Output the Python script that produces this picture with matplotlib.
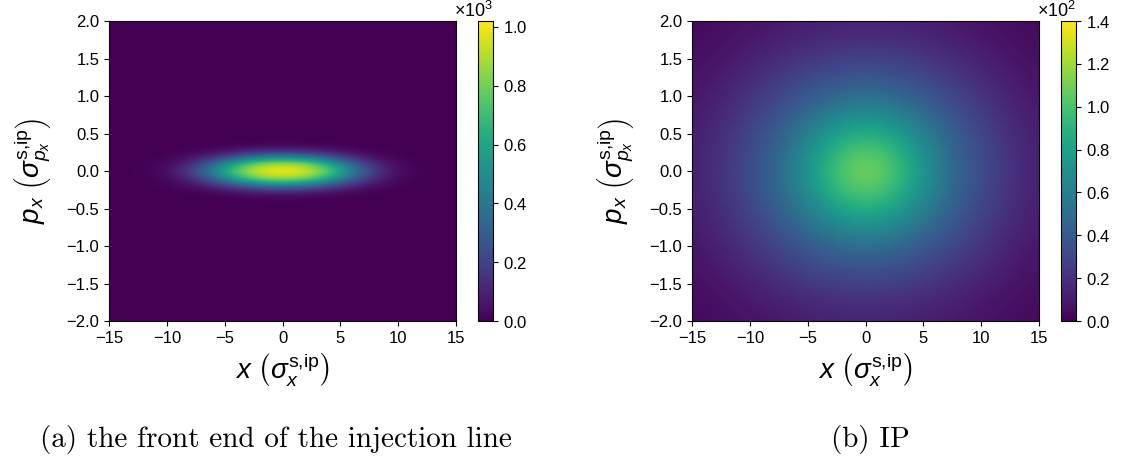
import numpy as np
import matplotlib.pyplot as plt
from matplotlib.ticker import ScalarFormatter

plt.rcParams['font.family'] = 'Liberation Sans'
plt.rcParams['mathtext.fontset'] = 'custom'
plt.rcParams['mathtext.rm'] = 'Liberation Sans'
plt.rcParams['mathtext.it'] = 'Liberation Sans:italic'
plt.rcParams['mathtext.bf'] = 'Liberation Sans:bold'
plt.rcParams['xtick.labelsize'] = 12
plt.rcParams['ytick.labelsize'] = 12

# (a) front end of the injection line: counts
front_x = [-12, -10, -8, -6, -4, -2, 0, 2, 4, 6, 8, 10, 12]
front_px = [-0.4, -0.32, -0.24, -0.16, -0.08, 0.0, 0.08, 0.16, 0.24, 0.32, 0.4]
front_counts = [
    [0, 0, 0, 0, 1, 2, 3, 2, 1, 0, 0, 0, 0],
    [0, 0, 2, 7, 18, 29, 37, 29, 18, 7, 2, 0, 0],
    [0, 3, 15, 52, 117, 188, 213, 188, 117, 52, 15, 3, 0],
    [1, 12, 58, 181, 380, 550, 615, 550, 380, 181, 58, 12, 1],
    [3, 22, 125, 360, 665, 880, 935, 880, 665, 360, 125, 22, 3],
    [4, 35, 160, 440, 770, 960, 1010, 960, 770, 440, 160, 35, 4],
    [3, 22, 125, 360, 665, 880, 935, 880, 665, 360, 125, 22, 3],
    [1, 12, 58, 181, 380, 550, 615, 550, 380, 181, 58, 12, 1],
    [0, 3, 15, 52, 117, 188, 213, 188, 117, 52, 15, 3, 0],
    [0, 0, 2, 7, 18, 29, 37, 29, 18, 7, 2, 0, 0],
    [0, 0, 0, 0, 1, 2, 3, 2, 1, 0, 0, 0, 0],
]

# (b) IP
ip_x = [-15, -12.5, -10, -7.5, -5, -2.5, 0, 2.5, 5, 7.5, 10, 12.5, 15]
ip_px = [-2.0, -1.5, -1.0, -0.5, 0.0, 0.5, 1.0, 1.5, 2.0]
ip_counts = [
    [3, 4.7, 6.5, 8, 10, 11.5, 12, 11.5, 10, 8, 6.5, 4.7, 3],
    [5.5, 8, 12, 17, 21.5, 25, 26, 25, 21.5, 17, 12, 8, 5.5],
    [8, 13, 21, 29, 38, 46, 50, 46, 38, 29, 21, 13, 8],
    [11, 18, 29, 43, 62, 82, 90, 82, 62, 43, 29, 18, 11],
    [12, 21, 33, 49, 76, 106, 122, 106, 76, 49, 33, 21, 12],
    [11, 18, 29, 43, 62, 82, 90, 82, 62, 43, 29, 18, 11],
    [8, 13, 21, 29, 38, 46, 50, 46, 38, 29, 21, 13, 8],
    [5.5, 8, 12, 17, 21.5, 25, 26, 25, 21.5, 17, 12, 8, 5.5],
    [3, 4.7, 6.5, 8, 10, 11.5, 12, 11.5, 10, 8, 6.5, 4.7, 3],
]

captions = ['(a) the front end of the injection line', '(b) IP']


def draw_panel(fig, ax, cax, xs, ys, counts, vmax, cticks):
    dx = xs[1] - xs[0]
    dy = ys[1] - ys[0]
    ext = [xs[0] - dx / 2, xs[-1] + dx / 2, ys[0] - dy / 2, ys[-1] + dy / 2]
    im = ax.imshow(np.array(counts, dtype=float), origin='lower', extent=ext,
                   aspect='auto', cmap='viridis', vmin=0, vmax=vmax,
                   interpolation='bicubic', interpolation_stage='data')
    ax.set_facecolor(plt.cm.viridis(0.0))
    ax.set_xlim(-15, 15)
    ax.set_ylim(-2, 2)
    ax.set_xticks(np.arange(-15, 16, 5))
    ax.set_yticks(np.arange(-2, 2.01, 0.5))
    ax.set_xlabel(r'$x\ \left(\sigma_x^{\mathrm{s{,}ip}}\right)$', fontsize=20, labelpad=4)
    ax.set_ylabel(r'$p_x\ \left(\sigma_{p_x}^{\mathrm{s{,}ip}}\right)$', fontsize=20, labelpad=10)

    fmt = ScalarFormatter(useMathText=True)
    fmt.set_powerlimits((0, 0))
    cb = fig.colorbar(im, cax=cax, format=fmt, ticks=cticks)
    cb.ax.yaxis.offsetText.set_fontsize(13)
    return im


fig = plt.figure(figsize=(11.26, 4.68), dpi=100)

ax1 = fig.add_axes([0.0968, 0.3141, 0.3082, 0.6410])
cax1 = fig.add_axes([0.4245, 0.3141, 0.0133, 0.6410])
ax2 = fig.add_axes([0.6146, 0.3141, 0.3082, 0.6410])
cax2 = fig.add_axes([0.9423, 0.3141, 0.0133, 0.6410])

draw_panel(fig, ax1, cax1, front_x, front_px, front_counts, 1020, np.arange(0, 1001, 200))
draw_panel(fig, ax2, cax2, ip_x, ip_px, ip_counts, 140, np.arange(0, 141, 20))

fig.text(276 / 1126, 0.045, captions[0], family='cmr10', fontsize=21, ha='center', va='baseline')
fig.text(870 / 1126, 0.045, captions[1], family='cmr10', fontsize=21, ha='center', va='baseline')

fig.savefig('out.png', dpi=100)
